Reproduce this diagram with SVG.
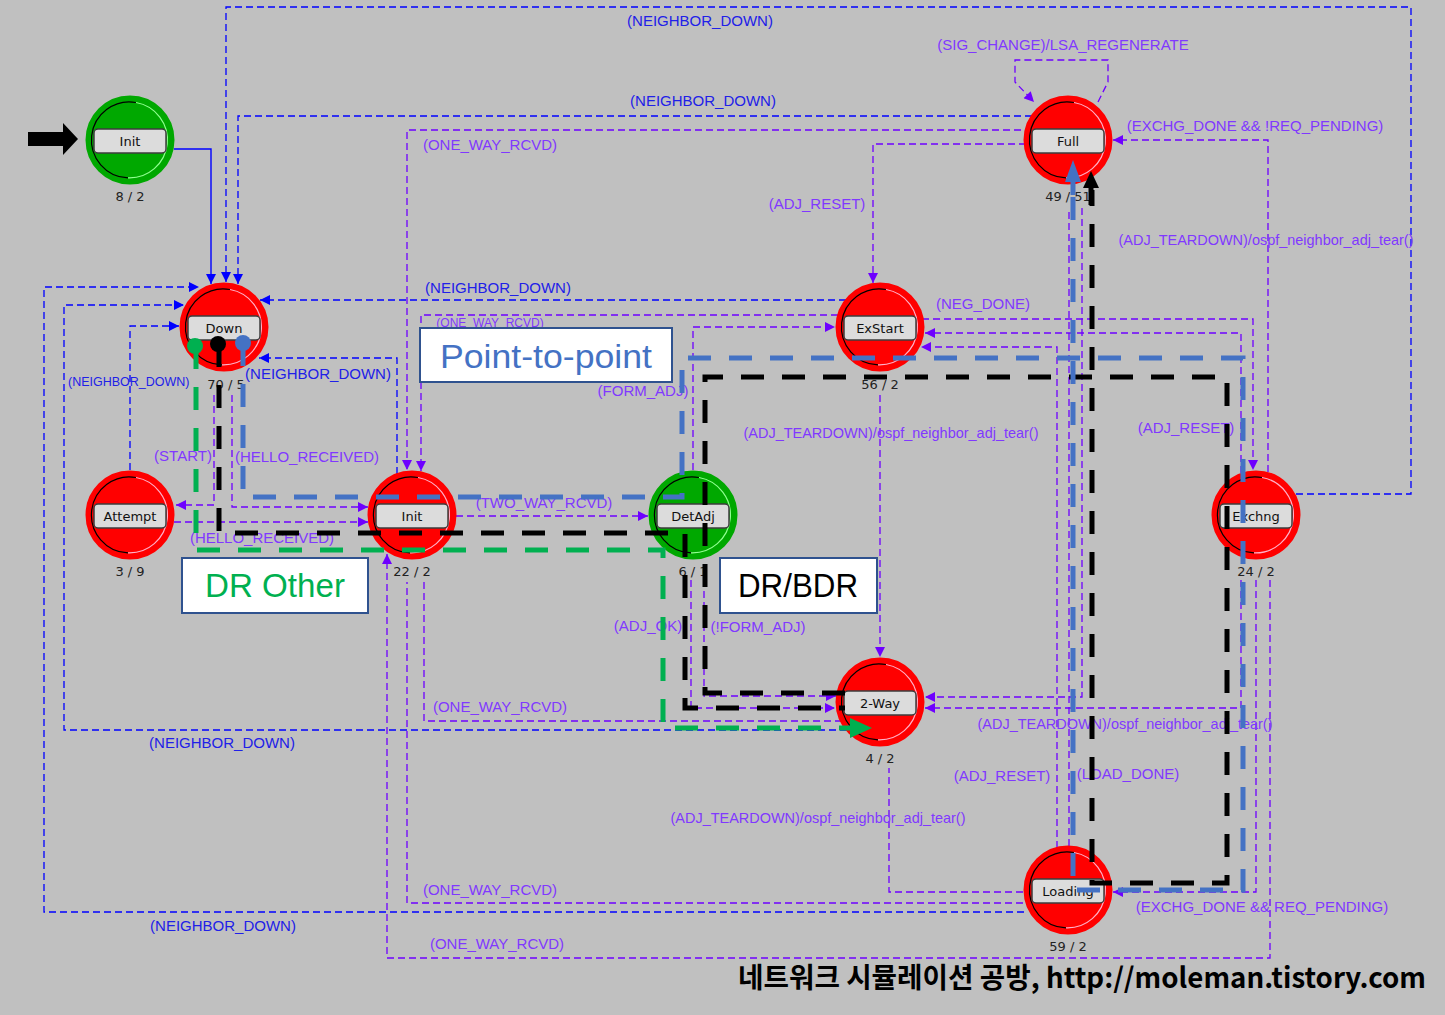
<svg xmlns="http://www.w3.org/2000/svg" width="1445" height="1015" viewBox="0 0 1445 1015">
<defs>
<style>
.b{fill:none;stroke:#0000FF;stroke-width:1.3;stroke-dasharray:7 4}
.bs{fill:none;stroke:#0000FF;stroke-width:1.4}
.p{fill:none;stroke:#6E00FF;stroke-width:1.3;stroke-dasharray:7 4}
.tb{font-family:"Liberation Sans",Arial,sans-serif;font-size:15px;fill:#2020E8;text-anchor:middle}
.tp{font-family:"Liberation Sans",Arial,sans-serif;font-size:15px;fill:#8038FF;text-anchor:middle}
.nl{font-family:"DejaVu Sans",Verdana,sans-serif;font-size:13px;fill:#111;text-anchor:middle}
.cnt{font-family:"DejaVu Sans",Verdana,sans-serif;font-size:13px;fill:#222;text-anchor:middle}
.box{fill:#DCDCDC;stroke:#3C3C3C;stroke-width:1.5}
.thk{fill:none;stroke-width:5;stroke-dasharray:23 18}
.ann{fill:#FFFFFF;stroke:#2F528F;stroke-width:2}
.at{font-family:"Liberation Sans",Arial,sans-serif;font-size:34px;text-anchor:middle}
</style>
<marker id="ab" viewBox="0 0 10 10" refX="10" refY="5" markerWidth="11" markerHeight="10" markerUnits="userSpaceOnUse" orient="auto"><path d="M0,0 L10,5 L0,10 z" fill="#0000FF"/></marker>
<marker id="ap" viewBox="0 0 10 10" refX="10" refY="5" markerWidth="11" markerHeight="10" markerUnits="userSpaceOnUse" orient="auto"><path d="M0,0 L10,5 L0,10 z" fill="#6E00FF"/></marker>
<g id="redBody">
<circle r="43" fill="#FF0000" stroke="#FF0000" stroke-width="3"/>
<path d="M6,-37.5 A38,38 0 1 0 -2,37.9" fill="none" stroke="#000" stroke-width="1.2"/>
<path d="M6,-37.5 A38,38 0 0 1 -2,37.9" fill="none" stroke="#FFB0C8" stroke-width="1.2"/>
</g>
<g id="greenBody">
<circle r="43" fill="#00A800" stroke="#00A800" stroke-width="3"/>
<path d="M6,-37.5 A38,38 0 1 0 -2,37.9" fill="none" stroke="#000" stroke-width="1.2"/>
<path d="M6,-37.5 A38,38 0 0 1 -2,37.9" fill="none" stroke="#90FF90" stroke-width="1.2"/>
</g>
</defs>
<rect width="1445" height="1015" fill="#C0C0C0"/>

<path d="M28,132 H63 V123 L78,139 L63,155 V146 H28 Z" fill="#000"/>

<g id="connectors">
<path class="bs" d="M174,149 H211 V284" marker-end="url(#ab)"/>
<path class="b" d="M1296,494 H1411 V7 H226 V282" marker-end="url(#ab)"/>
<path class="b" d="M1032,116 H238 V284" marker-end="url(#ab)"/>
<path class="b" d="M846,300 H260" marker-end="url(#ab)"/>
<path class="b" d="M397,474 V358 H259" marker-end="url(#ab)"/>
<path class="b" d="M130,470 V326 H179" marker-end="url(#ab)"/>
<path class="b" d="M847,730 H64 V305 H184" marker-end="url(#ab)"/>
<path class="b" d="M1024,912 H44 V287 H199" marker-end="url(#ab)"/>

<path class="p" d="M1098,102 L1108,82 V60 H1015 V82 L1034,102" marker-end="url(#ap)"/>
<path class="p" d="M1268,472 V140 H1113" marker-end="url(#ap)"/>
<path class="p" d="M1032,130 H407 V470" marker-end="url(#ap)"/>
<path class="p" d="M1026,144 H873 V283" marker-end="url(#ap)"/>
<path class="p" d="M838,315 H421 V471" marker-end="url(#ap)"/>
<path class="p" d="M693,470 V327 H835" marker-end="url(#ap)"/>
<path class="p" d="M922,319 H1253 V470" marker-end="url(#ap)"/>
<path class="p" d="M1241,473 V333 H925" marker-end="url(#ap)"/>
<path class="p" d="M1057,848 V347 H921" marker-end="url(#ap)"/>
<path class="p" d="M1069,846 V208"/>
<path class="p" d="M1082,208 V697 H925" marker-end="url(#ap)"/>
<path class="p" d="M1241,580 V708 H925" marker-end="url(#ap)"/>
<path class="p" d="M880,395 V657" marker-end="url(#ap)"/>
<path class="p" d="M1023,892 H889 V768"/>
<path class="p" d="M1256,580 V892 H1113" marker-end="url(#ap)"/>
<path class="p" d="M1270,580 V958 H387 V554" marker-end="url(#ap)"/>
<path class="p" d="M1023,903 H407 V582"/>
<path class="p" d="M842,721 H424 V582"/>
<path class="p" d="M691,580 V708 H835" marker-end="url(#ap)"/>
<path class="p" d="M704,580 V696 H836" marker-end="url(#ap)"/>
<path class="p" d="M456,516 H648" marker-end="url(#ap)"/>
<path class="p" d="M214,395 V505 H176" marker-end="url(#ap)"/>
<path class="p" d="M232,395 V507 H368" marker-end="url(#ap)"/>
<path class="p" d="M174,522 H368" marker-end="url(#ap)"/>
</g>

<g id="edge-labels">
<text class="tb" x="700" y="26">(NEIGHBOR_DOWN)</text>
<text class="tp" x="1063" y="50">(SIG_CHANGE)/LSA_REGENERATE</text>
<text class="tb" x="703" y="106">(NEIGHBOR_DOWN)</text>
<text class="tp" x="1255" y="131">(EXCHG_DONE &amp;&amp; !REQ_PENDING)</text>
<text class="tp" x="490" y="150">(ONE_WAY_RCVD)</text>
<text class="tp" x="817" y="209">(ADJ_RESET)</text>
<text class="tp" x="1266" y="245" textLength="295" lengthAdjust="spacingAndGlyphs">(ADJ_TEARDOWN)/ospf_neighbor_adj_tear()</text>
<text class="tb" x="498" y="293">(NEIGHBOR_DOWN)</text>
<text class="tp" x="983" y="309">(NEG_DONE)</text>
<text class="tp" x="490" y="327" style="font-size:12px">(ONE_WAY_RCVD)</text>
<text class="tb" x="68" y="386" style="text-anchor:start;font-size:12.5px">(NEIGHBOR_DOWN)</text>
<text class="tb" x="318" y="379">(NEIGHBOR_DOWN)</text>
<text class="tp" x="643" y="396">(FORM_ADJ)</text>
<text class="tp" x="891" y="438" textLength="295" lengthAdjust="spacingAndGlyphs">(ADJ_TEARDOWN)/ospf_neighbor_adj_tear()</text>
<text class="tp" x="1186" y="433">(ADJ_RESET)</text>
<text class="tp" x="183" y="461">(START)</text>
<text class="tp" x="307" y="462">(HELLO_RECEIVED)</text>
<text class="tp" x="544" y="508">(TWO_WAY_RCVD)</text>
<text class="tp" x="262" y="543">(HELLO_RECEIVED)</text>
<text class="tp" x="648" y="631">(ADJ_OK)</text>
<text class="tp" x="758" y="632">(!FORM_ADJ)</text>
<text class="tp" x="500" y="712">(ONE_WAY_RCVD)</text>
<text class="tp" x="1125" y="729" textLength="295" lengthAdjust="spacingAndGlyphs">(ADJ_TEARDOWN)/ospf_neighbor_adj_tear()</text>
<text class="tb" x="222" y="748">(NEIGHBOR_DOWN)</text>
<text class="tp" x="1002" y="781">(ADJ_RESET)</text>
<text class="tp" x="1128" y="779">(LOAD_DONE)</text>
<text class="tp" x="818" y="823" textLength="295" lengthAdjust="spacingAndGlyphs">(ADJ_TEARDOWN)/ospf_neighbor_adj_tear()</text>
<text class="tp" x="490" y="895">(ONE_WAY_RCVD)</text>
<text class="tp" x="1262" y="912">(EXCHG_DONE &amp;&amp; REQ_PENDING)</text>
<text class="tb" x="223" y="931">(NEIGHBOR_DOWN)</text>
<text class="tp" x="497" y="949">(ONE_WAY_RCVD)</text>
</g>

<g id="n-init0">
<use href="#greenBody" x="130" y="140"/>
<rect class="box" x="94" y="129" width="72" height="24" rx="4"/>
<text class="nl" x="130" y="146">Init</text>
<text class="cnt" x="130" y="201">8 / 2</text>
</g>
<g id="n-down">
<use href="#redBody" x="224" y="327"/>
<rect class="box" x="188" y="316" width="72" height="24" rx="4"/>
<text class="nl" x="224" y="333">Down</text>
<text class="cnt" x="226" y="389">70 / 5</text>
</g>
<g id="n-attempt">
<use href="#redBody" x="130" y="515"/>
<rect class="box" x="94" y="504" width="72" height="24" rx="4"/>
<text class="nl" x="130" y="521">Attempt</text>
<text class="cnt" x="130" y="576">3 / 9</text>
</g>
<g id="n-init">
<use href="#redBody" x="412" y="515"/>
<rect class="box" x="376" y="504" width="72" height="24" rx="4"/>
<text class="nl" x="412" y="521">Init</text>
<text class="cnt" x="412" y="576">22 / 2</text>
</g>
<g id="n-detadj">
<use href="#greenBody" x="693" y="515"/>
<rect class="box" x="657" y="504" width="72" height="24" rx="4"/>
<text class="nl" x="693" y="521">DetAdj</text>
<text class="cnt" x="693" y="576">6 / 1</text>
</g>
<g id="n-exstart">
<use href="#redBody" x="880" y="327"/>
<rect class="box" x="844" y="316" width="72" height="24" rx="4"/>
<text class="nl" x="880" y="333">ExStart</text>
<text class="cnt" x="880" y="389">56 / 2</text>
</g>
<g id="n-full">
<use href="#redBody" x="1068" y="140"/>
<rect class="box" x="1032" y="129" width="72" height="24" rx="4"/>
<text class="nl" x="1068" y="146">Full</text>
<text class="cnt" x="1068" y="201">49 / 51</text>
</g>
<g id="n-exchng">
<use href="#redBody" x="1256" y="515"/>
<rect class="box" x="1220" y="504" width="72" height="24" rx="4"/>
<text class="nl" x="1256" y="521">Exchng</text>
<text class="cnt" x="1256" y="576">24 / 2</text>
</g>
<g id="n-2way">
<use href="#redBody" x="880" y="702"/>
<rect class="box" x="844" y="691" width="72" height="24" rx="4"/>
<text class="nl" x="880" y="708">2-Way</text>
<text class="cnt" x="880" y="763">4 / 2</text>
</g>
<g id="n-loading">
<use href="#redBody" x="1068" y="890"/>
<rect class="box" x="1032" y="879" width="72" height="24" rx="4"/>
<text class="nl" x="1068" y="896">Loading</text>
<text class="cnt" x="1068" y="951">59 / 2</text>
</g>

<g id="highlights">
<circle cx="195" cy="346" r="8" fill="#00B050"/>
<path class="thk" stroke="#00B050" d="M196,346 V550 H663 V728 H852"/>
<path d="M850,718 L872,728 L850,738 Z" fill="#00B050"/>
<circle cx="218" cy="344" r="8" fill="#000"/>
<path class="thk" stroke="#000" d="M219,344 V533 H685 V708 H845"/>
<path class="thk" stroke="#000" d="M845,693 H705 V377 H1227 V883 H1092 V190"/>
<path d="M1083,188 L1091,171 L1099,188 Z" fill="#000"/>
<path d="M1091,186 V205" stroke="#000" stroke-width="5"/>
<circle cx="243" cy="343" r="8" fill="#4472C4"/>
<path class="thk" stroke="#4472C4" d="M243,343 V497 H682 V358 H1243 V890 H1073 V182"/>
<path d="M1065,182 L1073,160 L1081,182 Z" fill="#4472C4"/>
<path d="M1073,180 V195" stroke="#4472C4" stroke-width="5"/>
</g>

<g id="annotations">
<rect class="ann" x="420" y="328" width="252" height="54"/>
<text class="at" x="546" y="368" fill="#4472C4" textLength="212" lengthAdjust="spacingAndGlyphs">Point-to-point</text>
<rect class="ann" x="182" y="558" width="186" height="55"/>
<text class="at" x="275" y="597" fill="#00B050" textLength="140" lengthAdjust="spacingAndGlyphs">DR Other</text>
<rect class="ann" x="720" y="558" width="157" height="55"/>
<text class="at" x="798" y="597" fill="#000" textLength="120" lengthAdjust="spacingAndGlyphs">DR/BDR</text>
</g>

<text x="738" y="988" font-family="'Noto Sans CJK KR','Noto Sans',sans-serif" font-weight="bold" font-size="28" fill="#000" textLength="688" lengthAdjust="spacingAndGlyphs">네트워크 시뮬레이션 공방, http://moleman.tistory.com</text>
</svg>
